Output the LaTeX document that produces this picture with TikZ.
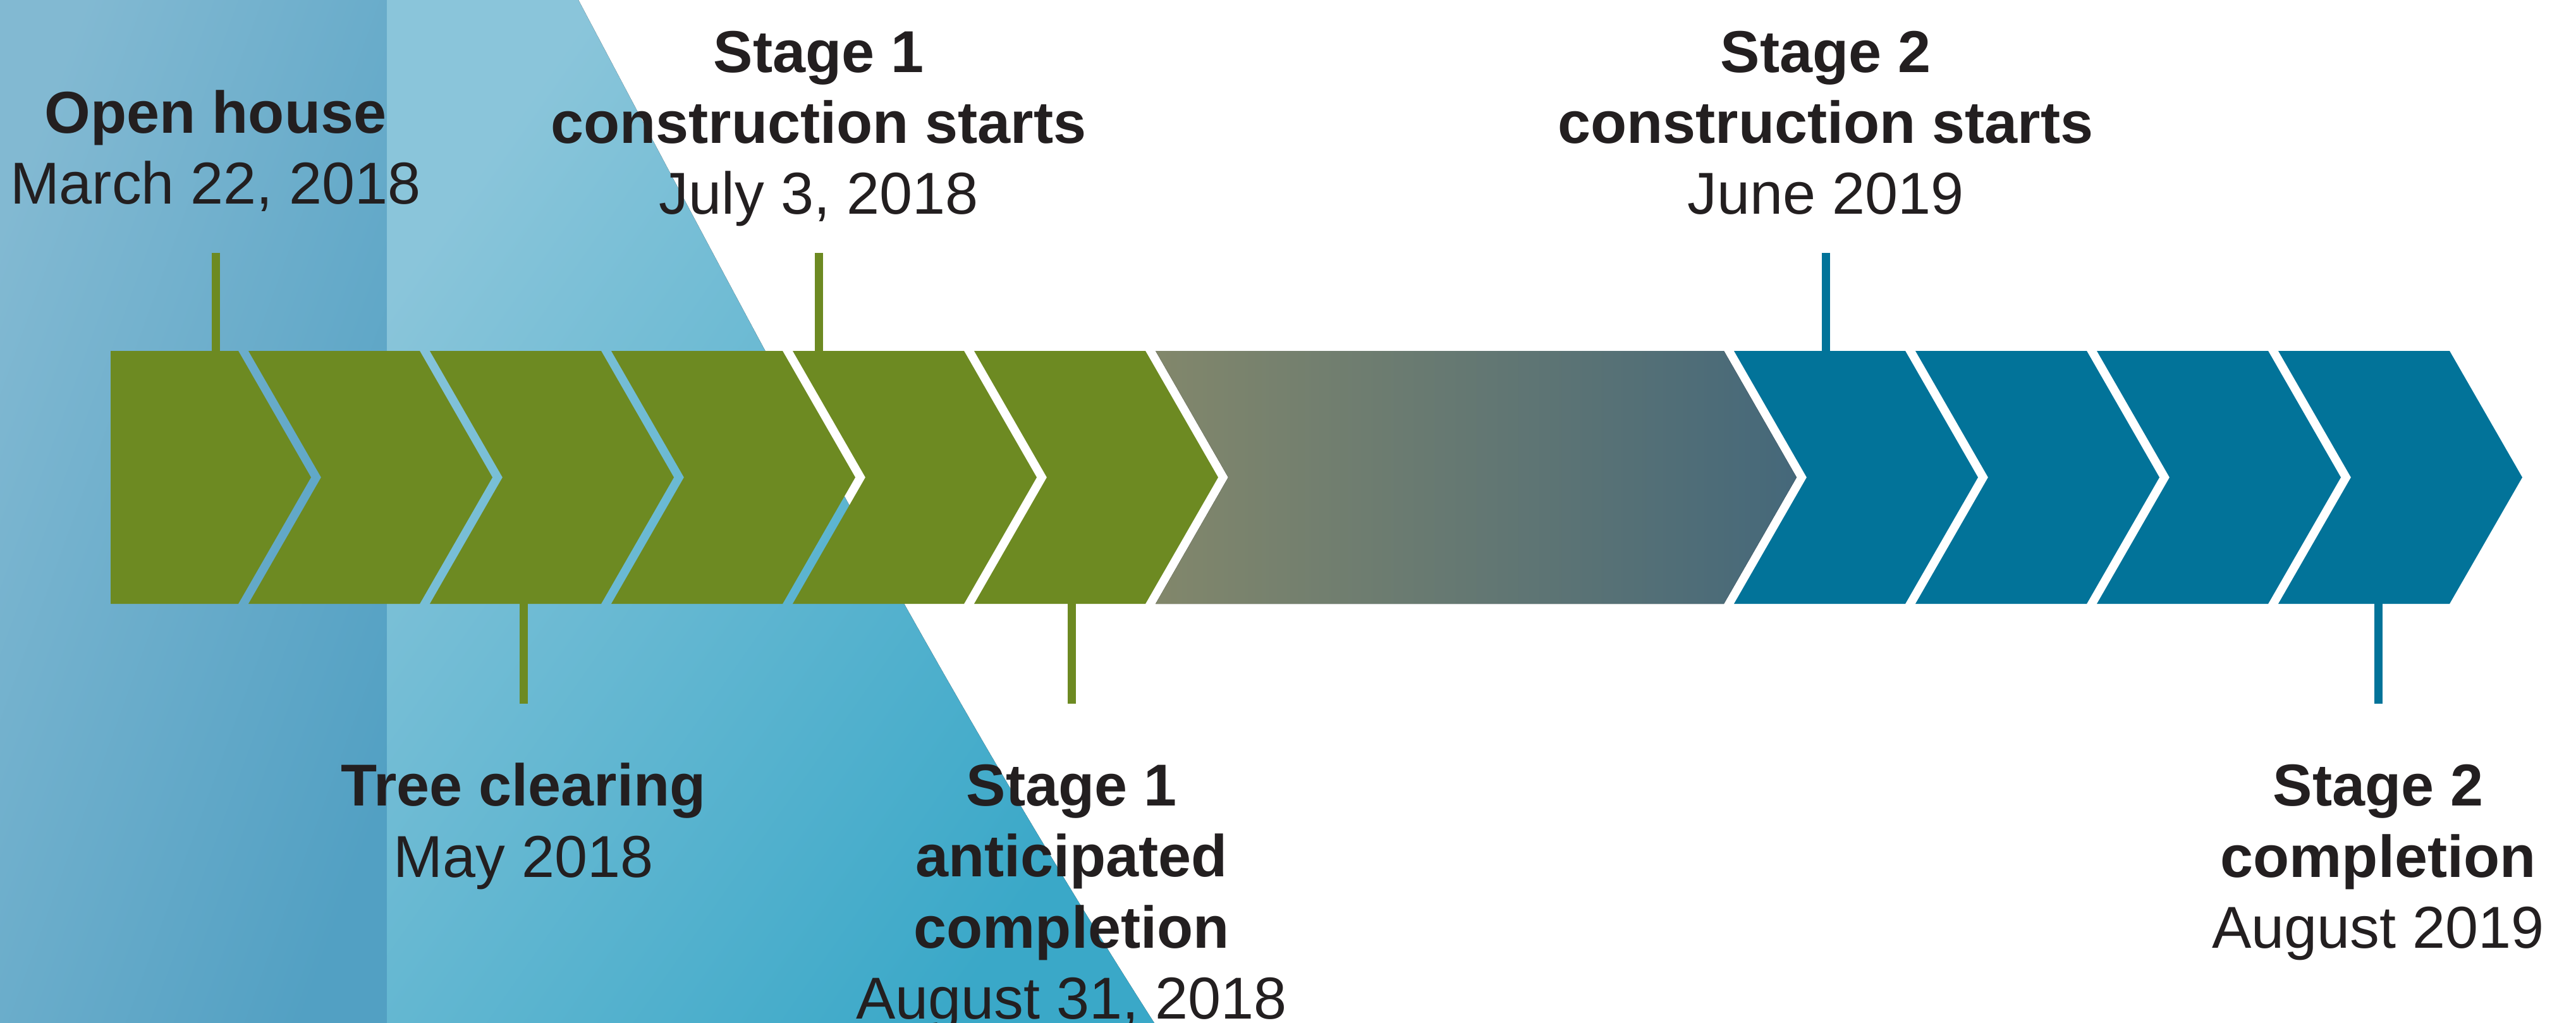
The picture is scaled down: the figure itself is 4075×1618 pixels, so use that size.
\documentclass[tikz,border=0pt]{standalone}
\usepackage{fontspec}
\setmainfont{Liberation Sans}
\usepackage{tikz}
\usetikzlibrary{positioning}
\definecolor{grn}{RGB}{109,138,34}
\definecolor{blu}{RGB}{2,115,153}
\definecolor{ink}{RGB}{35,31,32}
\definecolor{mixA}{RGB}{130,135,107}
\definecolor{mixB}{RGB}{69,104,122}
\definecolor{skyA}{RGB}{130,185,210}
\definecolor{skyB}{RGB}{82,160,195}
\definecolor{seaA}{RGB}{138,197,218}
\definecolor{seaB}{RGB}{58,168,200}

\begin{document}
\begin{tikzpicture}[x=0.01cm, y=-0.01cm,
  every node/.style={inner sep=0pt, align=center, text=ink,
    font=\fontsize{26.6}{31.9}\selectfont},
  tickg/.style={draw=grn, line width=0.13cm},
  tickb/.style={draw=blu, line width=0.13cm}
]
\useasboundingbox (0,0) rectangle (4075,1618);
\fill[white] (0,0) rectangle (4075,1618);
\fill[top color=skyA, bottom color=skyB, shading angle=70] (0,0) rectangle (612,1618);
\fill[top color=seaA, bottom color=seaB, shading angle=55]
  (612,0) -- (915,0) .. controls (1233,600) and (1506,1118) .. (1826,1618) -- (612,1618) -- cycle;
\foreach \a/\b/\n/\c in {167/385/0/grn, 385/672/115/grn, 672/959/115/grn,
    959/1246/115/grn, 1246/1533/115/grn, 1533/1820/115/grn,
    2735/3022/115/blu, 3022/3309/115/blu, 3309/3596/115/blu, 3596/3883/115/blu}
  \fill[\c] ({\a+8},555) -- ({\b-8},555) -- ({\b+107},755) -- ({\b-8},955)
    -- ({\a+8},955) -- ({\a+8+\n},755) -- cycle;
\fill[left color=mixA, right color=mixB] (1828,555) -- (2727,555) -- (2842,755)
  -- (2727,955) -- (1828,955) -- (1943,755) -- cycle;

\coordinate (oh-a) at (341,555);  \coordinate (oh-b) at (341,400);
\coordinate (tc-a) at (828,955);  \coordinate (tc-b) at (828,1113);
\coordinate (s1-a) at (1295,555); \coordinate (s1-b) at (1295,400);
\coordinate (c1-a) at (1695,955); \coordinate (c1-b) at (1695,1113);
\coordinate (s2-a) at (2888,555); \coordinate (s2-b) at (2888,400);
\coordinate (c2-a) at (3762,955); \coordinate (c2-b) at (3762,1113);
\draw[tickg] (oh-a) -- (oh-b);
\draw[tickg] (tc-a) -- (tc-b);
\draw[tickg] (s1-a) -- (s1-b);
\draw[tickg] (c1-a) -- (c1-b);
\draw[tickb] (s2-a) -- (s2-b);
\draw[tickb] (c2-a) -- (c2-b);

\node (oh) [above=0.77cm of oh-b, anchor=base] {\textbf{Open house}\\March 22, 2018};
\node (s1) [above=0.61cm of s1-b, anchor=base] {\textbf{Stage 1}\\\textbf{construction starts}\\July 3, 2018};
\node (s2) [above=0.61cm of s2-b, anchor=base] {\textbf{Stage 2}\\\textbf{construction starts}\\June 2019};
\node (tc) [below=2.74cm of tc-b, anchor=base] {\textbf{Tree clearing}\\May 2018};
\node (c1) [below=4.98cm of c1-b, anchor=base] {\textbf{Stage 1}\\\textbf{anticipated}\\\textbf{completion}\\August 31, 2018};
\node (c2) [below=3.86cm of c2-b, anchor=base] {\textbf{Stage 2}\\\textbf{completion}\\August 2019};
\end{tikzpicture}
\end{document}
